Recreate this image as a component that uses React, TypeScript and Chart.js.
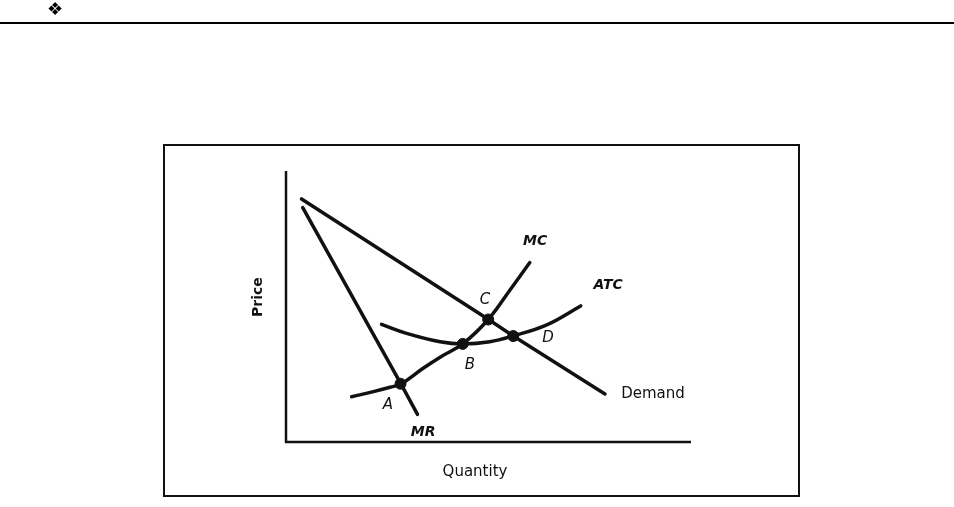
import React, { useEffect, useRef } from "react";
import { Chart, registerables } from "chart.js";

Chart.register(...registerables);

// Quantity / price coordinates (abstract units, 0..10 on each axis)
const demandQ = [0.36, 4.98, 5.6, 7.87];
const demandP = [8.97, 4.53, 3.91, 1.77];

const mrQ = [0.39, 2.81, 3.23];
const mrP = [8.65, 2.17, 1.02];

const mcQ = [1.6, 2.14, 2.55, 2.82, 3.37, 3.79, 4.35, 4.98, 5.52, 6.01];
const mcP = [1.67, 1.86, 2.02, 2.14, 2.72, 3.13, 3.62, 4.52, 5.61, 6.62];

const atcQ = [2.34, 2.96, 3.79, 4.35, 5.02, 5.59, 6.43, 7.27];
const atcP = [4.34, 4.01, 3.7, 3.62, 3.7, 3.91, 4.32, 5.02];

const pointNames = ["A", "B", "C", "D"];
const pointQ = [2.81, 4.35, 4.98, 5.6];
const pointP = [2.15, 3.62, 4.52, 3.91];

const curveLabels = ["MC", "ATC", "Demand", "MR"];
const curveLabelQ = [6.14, 7.95, 9.06, 3.37];
const curveLabelP = [7.42, 5.79, 1.77, 0.37];

const pointLabelQ = [2.5, 4.53, 4.9, 6.46];
const pointLabelP = [1.37, 2.84, 5.24, 3.84];

const xTitle = "Quantity";
const yTitle = "Price";

const toXY = (xs: number[], ys: number[]) => xs.map((x, i) => ({ x, y: ys[i] }));

export default function App() {
  const ref = useRef<HTMLCanvasElement | null>(null);

  useEffect(() => {
    const canvas = ref.current;
    if (!canvas) return;

    const decor = {
      id: "decor",
      beforeDatasetsDraw(chart: any) {
        const ctx = chart.ctx;
        const xs = chart.scales.x;
        const ys = chart.scales.y;
        ctx.save();
        // top rule and ornament
        ctx.fillStyle = "#000";
        ctx.fillRect(0, 22, 954, 2);
        ctx.font = "18px 'DejaVu Sans'";
        ctx.textAlign = "center";
        ctx.textBaseline = "middle";
        ctx.fillText("\u2756", 55, 10);
        // frame
        ctx.strokeStyle = "#111";
        ctx.lineWidth = 2;
        ctx.strokeRect(164, 145, 635, 351);
        // axes
        const x0 = xs.getPixelForValue(0);
        const y0 = ys.getPixelForValue(0);
        ctx.lineWidth = 2.5;
        ctx.beginPath();
        ctx.moveTo(x0 - 1, ys.getPixelForValue(10));
        ctx.lineTo(x0 - 1, y0);
        ctx.lineTo(xs.getPixelForValue(10), y0);
        ctx.stroke();
        // axis titles
        ctx.fillStyle = "#111";
        ctx.font = "15px 'DejaVu Sans'";
        ctx.textAlign = "center";
        ctx.textBaseline = "middle";
        ctx.fillText(xTitle, xs.getPixelForValue(5) - 14, 472);
        ctx.save();
        ctx.translate(258, ys.getPixelForValue(5.35));
        ctx.rotate(-Math.PI / 2);
        ctx.font = "bold 14px 'DejaVu Sans'";
        ctx.fillText(yTitle, 0, 0);
        ctx.restore();
        ctx.restore();
      },
      afterDatasetsDraw(chart: any) {
        const ctx = chart.ctx;
        const xs = chart.scales.x;
        const ys = chart.scales.y;
        ctx.save();
        ctx.fillStyle = "#111";
        ctx.textAlign = "center";
        ctx.textBaseline = "middle";
        curveLabels.forEach((t, i) => {
          ctx.font = t === "Demand" ? "15px 'DejaVu Sans'" : "italic 600 14px 'DejaVu Sans'";
          ctx.fillText(t, xs.getPixelForValue(curveLabelQ[i]), ys.getPixelForValue(curveLabelP[i]));
        });
        ctx.font = "italic 15px 'DejaVu Sans'";
        pointNames.forEach((t, i) => {
          ctx.fillText(t, xs.getPixelForValue(pointLabelQ[i]), ys.getPixelForValue(pointLabelP[i]));
        });
        ctx.restore();
      },
    };

    const lineDs = (label: string, data: any[], tension: number) => ({
      label,
      data,
      showLine: true,
      borderColor: "#111",
      borderWidth: 3.5,
      pointRadius: 0,
      tension,
      borderCapStyle: "round" as const,
      borderJoinStyle: "round" as const,
      fill: false,
    });

    const chart = new Chart(canvas, {
      type: "scatter",
      data: {
        datasets: [
          lineDs("Demand", toXY(demandQ, demandP), 0),
          lineDs("MR", toXY(mrQ, mrP), 0),
          lineDs("MC", toXY(mcQ, mcP), 0.4),
          lineDs("ATC", toXY(atcQ, atcP), 0.4),
          {
            label: "points",
            data: toXY(pointQ, pointP),
            showLine: false,
            pointRadius: 5.5,
            pointBackgroundColor: "#111",
            pointBorderColor: "#111",
          },
        ],
      },
      options: {
        responsive: false,
        animation: false,
        layout: { padding: { left: 287, right: 263, top: 171, bottom: 65 } },
        plugins: { legend: { display: false }, tooltip: { enabled: false } },
        scales: {
          x: { type: "linear", min: 0, max: 10, display: false },
          y: { type: "linear", min: 0, max: 10, display: false },
        },
      },
      plugins: [decor],
    });

    return () => chart.destroy();
  }, []);

  return (
    <div style={{ position: "fixed", left: 0, top: 0, width: 954, height: 507, background: "#fff" }}>
      <canvas ref={ref} width={954} height={507} />
    </div>
  );
}
